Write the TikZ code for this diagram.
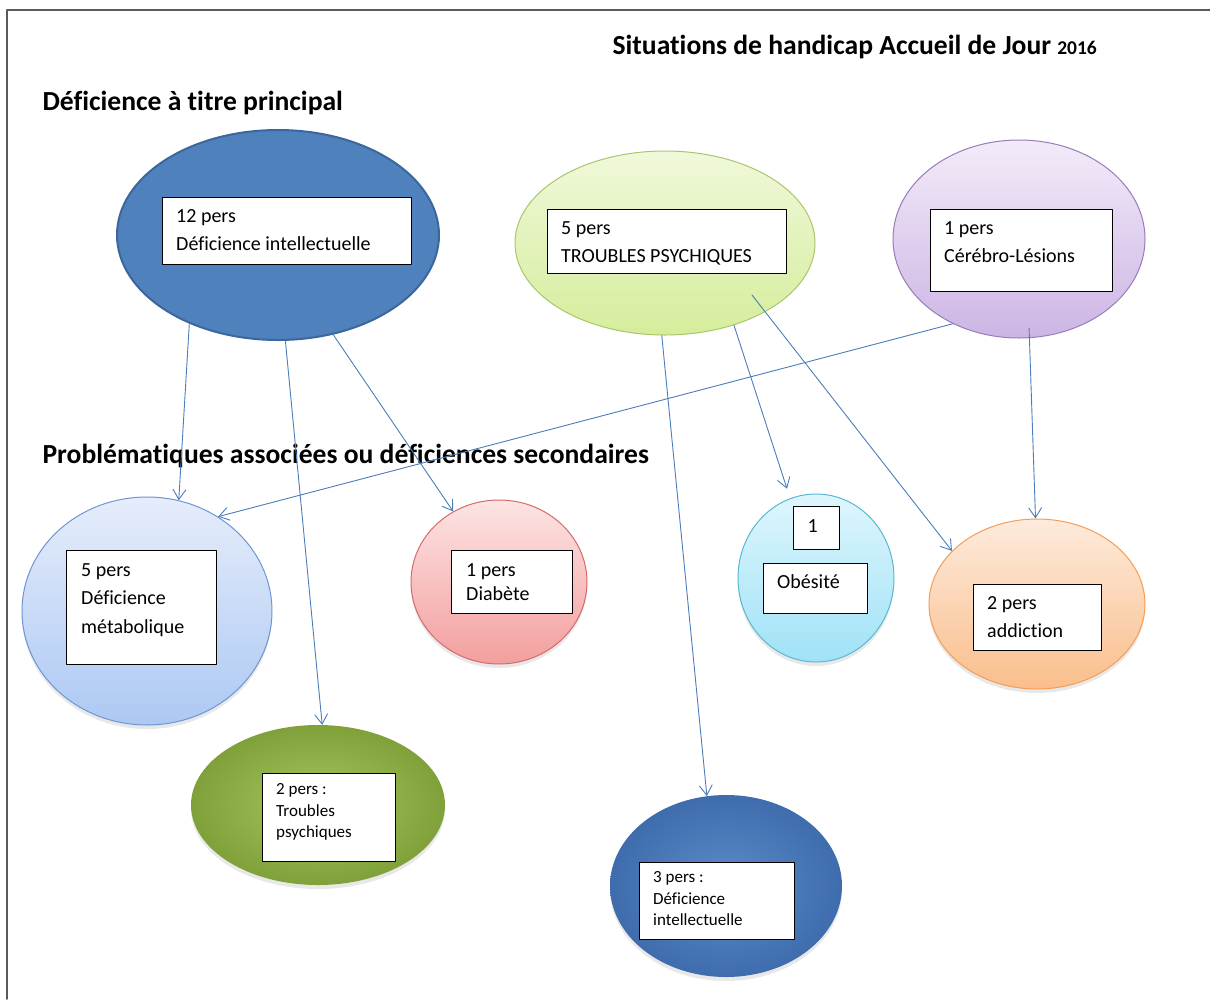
\documentclass[tikz,border=0pt]{standalone}
\usepackage{fontspec}
\setmainfont{Carlito}[Ligatures=NoCommon]
\usepackage{tikz}
\usetikzlibrary{calc,shapes.geometric,arrows.meta,shadows}
\definecolor{framegray}{HTML}{5A5A5A}
\definecolor{linkblue}{HTML}{4A7DBA}
\definecolor{diblue}{HTML}{4F81BD}
\definecolor{diborder}{HTML}{3B679C}
\newcommand{\headfont}{\fontsize{27.6}{30}\selectfont\bfseries}
\newcommand{\boxfont}{\fontsize{20}{28.5}\selectfont}
\newcommand{\smallfont}{\fontsize{17}{21.5}\selectfont}

\begin{document}
\begin{tikzpicture}[x=1pt, y=-1pt, line cap=round, line join=round,
    bubble/.style={ellipse, inner sep=0pt},
    soft/.style={drop shadow={opacity=0.18, shadow xshift=0pt, shadow yshift=-4pt}},
    txtbox/.style={draw=black, line width=1.3pt, fill=white, inner sep=0pt, anchor=north west},
    txt/.style={anchor=north west, inner sep=0pt, align=left, font=\boxfont},
    link/.style={draw=linkblue, line width=0.9pt, -{Straight Barb[length=10pt,width=13pt]}}]
		\useasboundingbox (0,0) rectangle (1210,999);
		% Frame
		\draw[framegray, line width=1.6pt] (7,999) -- (7,10) -- (1210,10);
		
		% Titles
		\node[anchor=west, font=\headfont] (title) at (609,47) {Situations de handicap Accueil de Jour {\fontsize{19.5}{22}\selectfont 2016}};
		\node[anchor=west, font=\headfont] (main) at (39,103) {Déficience à titre principal};
		\node[anchor=west, font=\headfont] (second) at (39,456) {Problématiques associées ou déficiences secondaires};
		
		% Main bubbles
		\node[bubble, minimum width=322pt, minimum height=210pt, fill=diblue, draw=diborder, line width=2pt] (di) at (278,235) {};
		\node[bubble, minimum width=300pt, minimum height=184pt, top color={rgb,255:red,240;green,248;blue,218}, bottom color={rgb,255:red,214;green,237;blue,156}, draw={rgb,255:red,168;green,198;blue,108}, line width=1pt] (tp) at (665,243) {};
		\node[bubble, minimum width=252pt, minimum height=198pt, top color={rgb,255:red,243;green,235;blue,249}, bottom color={rgb,255:red,204;green,181;blue,228}, draw={rgb,255:red,152;green,124;blue,186}, line width=1pt] (cer) at (1019,239) {};
		
		% Secondary bubbles
		\node[bubble, soft, minimum width=250pt, minimum height=228pt, top color={rgb,255:red,230;green,237;blue,251}, bottom color={rgb,255:red,172;green,200;blue,243}, draw={rgb,255:red,110;green,150;blue,210}, line width=1pt] (met) at (147,611) {};
		\node[bubble, soft, minimum width=176pt, minimum height=164pt, top color={rgb,255:red,253;green,228;blue,228}, bottom color={rgb,255:red,243;green,158;blue,158}, draw={rgb,255:red,212;green,106;blue,106}, line width=1pt] (dia) at (499,582) {};
		\node[bubble, soft, minimum width=156pt, minimum height=168pt, top color={rgb,255:red,222;green,246;blue,253}, bottom color={rgb,255:red,160;green,226;blue,246}, draw={rgb,255:red,91;green,184;blue,210}, line width=1pt] (ob) at (816,578) {};
		\node[bubble, soft, minimum width=216pt, minimum height=170pt, top color={rgb,255:red,253;green,235;blue,220}, bottom color={rgb,255:red,250;green,190;blue,140}, draw={rgb,255:red,245;green,157;blue,86}, line width=1pt] (add) at (1037,604) {};
		\node[bubble, soft, minimum width=254pt, minimum height=160pt, inner color={rgb,255:red,166;green,200;blue,96}, outer color={rgb,255:red,128;green,160;blue,58}] (psy) at (318,805) {};
		\node[bubble, soft, minimum width=232pt, minimum height=182pt, inner color={rgb,255:red,92;green,140;blue,202}, outer color={rgb,255:red,62;green,108;blue,172}] (dib) at (726,886) {};
		
		% Boxes
		\node[txtbox, minimum width=249pt, minimum height=67pt] (dibox) at (162,197) {};
		\node[txtbox, minimum width=239pt, minimum height=64pt] (tpbox) at (547,209) {};
		\node[txtbox, minimum width=182pt, minimum height=82pt] (cerbox) at (930,209) {};
		\node[txtbox, minimum width=150pt, minimum height=114pt] (metbox) at (66,550) {};
		\node[txtbox, minimum width=121pt, minimum height=63pt] (diabox) at (451,550) {};
		\node[txtbox, minimum width=46pt, minimum height=43pt] (obnum) at (793,506) {};
		\node[txtbox, minimum width=104pt, minimum height=50pt] (obbox) at (763,563) {};
		\node[txtbox, minimum width=128pt, minimum height=66pt] (addbox) at (973,584) {};
		\node[txtbox, minimum width=133pt, minimum height=88pt] (psybox) at (262,773) {};
		\node[txtbox, minimum width=155pt, minimum height=77pt] (dibbox) at (639,862) {};
		
		% Texts
		\node[txt] (ditxt) at ($(dibox.north west)+(14,12)$) {12 pers\\Déficience intellectuelle};
		\node[txt] (tptxt) at ($(tpbox.north west)+(14,12)$) {5 pers\\TROUBLES PSYCHIQUES};
		\node[txt] (certxt) at ($(cerbox.north west)+(14,12)$) {1 pers\\Cérébro-Lésions};
		\node[txt] (mettxt) at ($(metbox.north west)+(15,13)$) {5 pers\\Déficience\\métabolique};
		\node[txt, font=\fontsize{20}{24}\selectfont] (diatxt) at ($(diabox.north west)+(15,13)$) {1 pers\\Diabète};
		\node[font=\boxfont, inner sep=0pt] (obn) at ($(obnum.center)+(-4,-2)$) {1};
		\node[txt] (obtxt) at ($(obbox.north west)+(14,11)$) {Obésité};
		\node[txt] (addtxt) at ($(addbox.north west)+(14,12)$) {2 pers\\addiction};
		\node[txt, font=\smallfont] (psytxt) at ($(psybox.north west)+(14,10.5)$) {2 pers :\\Troubles\\psychiques};
		\node[txt, font=\smallfont] (dibtxt) at ($(dibbox.north west)+(14,9.5)$) {3 pers :\\Déficience\\intellectuelle};
		
		% Links
		\draw[link] (di.-135) -- (met.74);
		\draw[link] (di.-86) -- (psy.87);
		\draw[link] (di.-61) -- (dia.123);
		\draw[link] (cer.-128) -- (met.53);
		\draw[link] (tp.-92) -- (dib.102);
		\draw[link, shorten >=10pt] (tp.-50) -- (ob.108);
		\coordinate (tpin) at (752,295);
		\draw[link] (tpin) -- (add.148);
		\draw[link, shorten <=-10pt] (cer.-84) -- (add.91);
	\end{tikzpicture}
\end{document}
